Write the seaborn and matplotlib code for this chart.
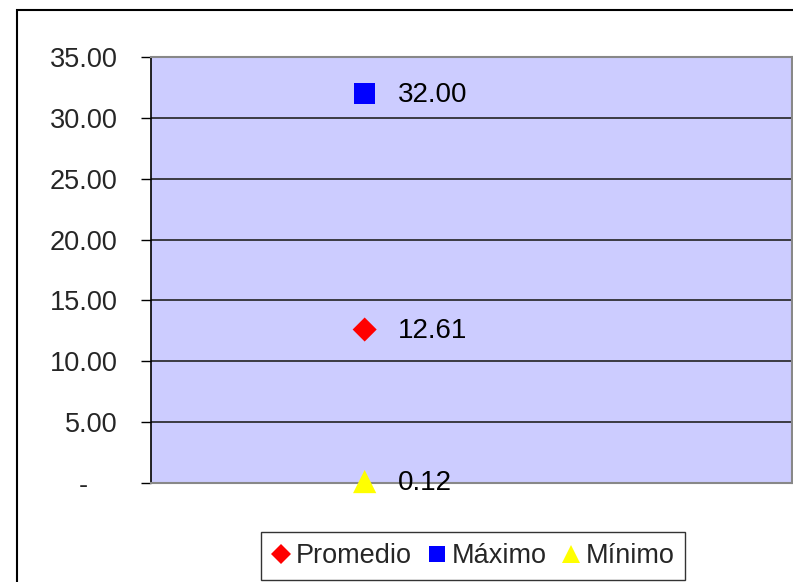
import matplotlib
matplotlib.use("Agg")
import matplotlib.pyplot as plt
from matplotlib.patches import Rectangle
from matplotlib.lines import Line2D
import seaborn as sns
import pandas as pd

# data
series = ["Promedio", "Máximo", "Mínimo"]
values = [12.61, 32.00, 0.12]
colors = ["#FF0000", "#0000FF", "#FFFF00"]
markers = ["D", "s", "^"]
sizes = [150, 225, 280]
yticks = [0, 5, 10, 15, 20, 25, 30, 35]

sns.set_theme(style="white")
plt.rcParams["font.family"] = ["Liberation Sans", "DejaVu Sans"]

df = pd.DataFrame({"serie": series, "valor": values, "x": [0, 0, 0]})

fig = plt.figure(figsize=(7.93, 5.82), dpi=100)
ax = fig.add_axes([151 / 793, 1 - 483 / 582, 641 / 793, 426 / 582])
ax.set_facecolor("#CCCCFF")

for name, col, mk, sz in zip(series, colors, markers, sizes):
    sub = df[df["serie"] == name]
    sns.scatterplot(data=sub, x="x", y="valor", color=col, marker=mk, s=sz,
                    edgecolor="none", ax=ax, legend=False, zorder=5, clip_on=False)

for v in values:
    ax.annotate(f"{v:.2f}", xy=(0, v), xytext=(24, -1), textcoords="offset points",
                ha="left", va="center", fontsize=20, color="black", zorder=6)

ax.set_xlim(-0.5, 1.0)
ax.set_ylim(0, 35)
ax.set_yticks(yticks)
# Excel accounting format shows zero as a dash, set in from the right
ax.set_yticklabels(["-    " if t == 0 else f"{t:.2f}" for t in yticks], fontsize=19.5)
ax.set_xticks([])
ax.set_xlabel("")
ax.set_ylabel("")
ax.tick_params(axis="y", direction="out", length=7, width=1, color="black", pad=17, left=True)
for t in yticks[1:-1]:
    ax.axhline(t, color="#222222", lw=1.2, zorder=1)

for side in ["top", "right", "bottom"]:
    ax.spines[side].set_color("#888888")
    ax.spines[side].set_linewidth(1.5)
ax.spines["left"].set_color("black")
ax.spines["left"].set_linewidth(1.2)

handles = [Line2D([], [], linestyle="none", marker=mk, color=col, markersize=ms, markeredgewidth=0)
           for col, mk, ms in zip(colors, markers, [10, 12, 13])]
leg = fig.legend(handles, series, loc="lower left", bbox_to_anchor=(261 / 793, 2 / 582),
                 ncol=3, frameon=True, fancybox=False, fontsize=19.5, handlelength=0.7,
                 handletextpad=0.2, columnspacing=0.55, borderpad=0.4, borderaxespad=0)
leg.get_frame().set_edgecolor("black")
leg.get_frame().set_linewidth(1)

# outer chart frame
fig.patches.append(Rectangle((17 / 793, -0.05), 1.0, 1 - 10 / 582 + 0.05, transform=fig.transFigure,
                             fill=False, edgecolor="black", lw=1.5, zorder=0))

fig.savefig("out.png", dpi=100)
